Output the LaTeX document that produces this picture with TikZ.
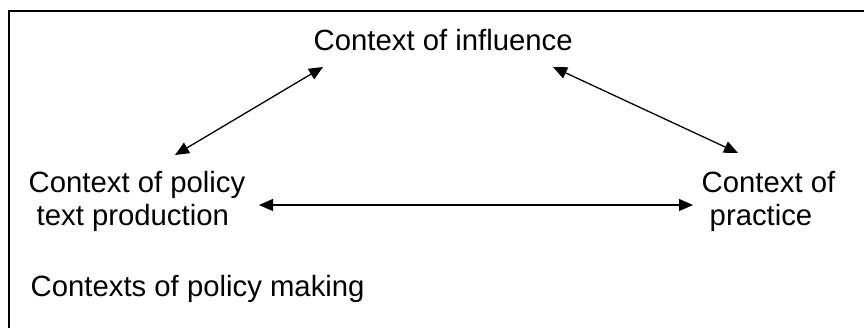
\documentclass[tikz,border=0pt]{standalone}
\usepackage{fontspec}
\setmainfont{Liberation Sans}
\usetikzlibrary{arrows.meta}
\begin{document}
\begin{tikzpicture}[x=1pt,y=-1pt,
  lbl/.style={inner sep=0pt,anchor=base west,font=\fontsize{29.3}{33}\selectfont},
  link/.style={line width=1.3pt,{Triangle[length=14pt,width=12pt]}-{Triangle[length=14pt,width=12pt]}}]
\useasboundingbox (0,0) rectangle (864,328);
\draw[line width=2pt] (9,340) -- (9,11) -- (880,11);
\node[lbl] (infl) at (313.5,51) {Context of influence};
\node[lbl] (pol1) at (28.5,193) {Context of policy};
\node[lbl] (pol2) at (36.5,226) {text production};
\node[lbl] (pra1) at (701.5,193) {Context of};
\node[lbl] (pra2) at (709.5,226) {practice};
\node[lbl] (make) at (30.5,297) {Contexts of policy making};
\coordinate (a1) at (175,155);
\coordinate (a2) at (323,67);
\coordinate (b1) at (553,67);
\coordinate (b2) at (738,153);
\coordinate (c1) at (259,205);
\coordinate (c2) at (693,205);
\draw[link] (a1) -- (a2);
\draw[link] (b1) -- (b2);
\draw[link] (c1) -- (c2);
\end{tikzpicture}
\end{document}
